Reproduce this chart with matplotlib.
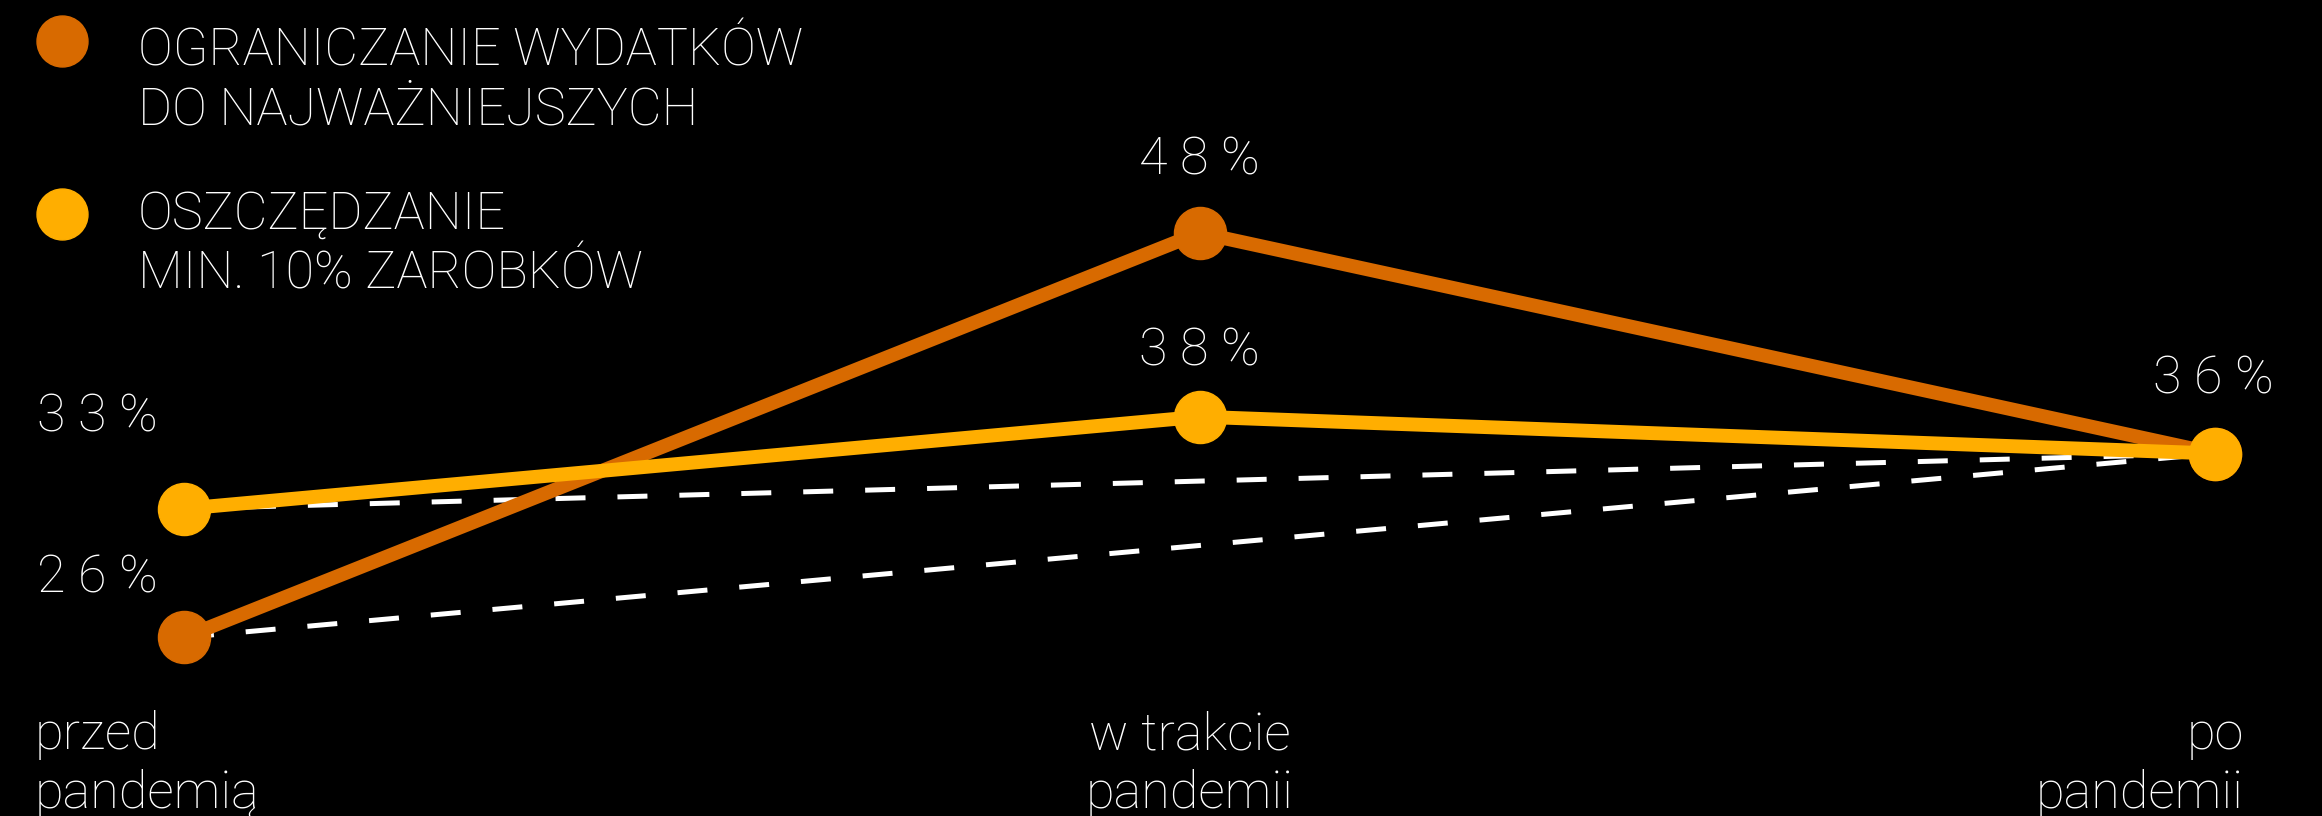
import matplotlib
matplotlib.use('Agg')
import matplotlib.pyplot as plt
from matplotlib import font_manager

# ---- data ----
categories = ['przed\npandemią', 'w trakcie\npandemii', 'po\npandemii']
limit_spending = [26, 48, 36]      # OGRANICZANIE WYDATKÓW DO NAJWAŻNIEJSZYCH
saving_10pct = [33, 38, 36]        # OSZCZĘDZANIE MIN. 10% ZAROBKÓW
series_names = ['OGRANICZANIE WYDATKÓW\nDO NAJWAŻNIEJSZYCH',
                'OSZCZĘDZANIE\nMIN. 10% ZAROBKÓW']

ORANGE = '#D86A00'
YELLOW = '#FFAE00'

fams = {f.name for f in font_manager.fontManager.ttflist}
FONT = [f for f in ['Roboto', 'Liberation Sans', 'DejaVu Sans'] if f in fams] + ['DejaVu Sans']
plt.rcParams['font.family'] = FONT
plt.rcParams['lines.scale_dashes'] = False

W, H = 2322, 816
FS = 37.5
LS = 1.24
X0, STEP = 184, 1015.5   # pixel of first category, pixels between categories
fig = plt.figure(figsize=(W / 100, H / 100), dpi=100, facecolor='black')
ax = fig.add_axes([0, 0, 1, 1])
ax.set_facecolor('black')
ax.set_axis_off()

x = list(range(len(categories)))
ax.set_xlim(-X0 / STEP, (W - X0) / STEP)
ax.set_ylim(16.29, 60.66)

# dashed baselines from first to last value
for vals in (limit_spending, saving_10pct):
    ax.plot([x[0], x[-1]], [vals[0], vals[-1]], color='white', lw=3.6,
            dashes=(21.6, 23), zorder=1, solid_capstyle='butt')

ax.plot(x, limit_spending, color=ORANGE, lw=10, marker='o', ms=37.5,
        zorder=3, solid_joinstyle='round')
ax.plot(x, saving_10pct, color=YELLOW, lw=10, marker='o', ms=37.5,
        zorder=4, solid_joinstyle='round')

# value labels (offsets in pixels relative to the marker)
lbl_kw = dict(textcoords='offset pixels', color='white', fontsize=FS,
              fontweight='light', va='baseline')
ax.annotate('2 6 %', (x[0], limit_spending[0]), xytext=(37 - X0, 45), ha='left', **lbl_kw)
ax.annotate('3 3 %', (x[0], saving_10pct[0]), xytext=(37 - X0, 77), ha='left', **lbl_kw)
ax.annotate('4 8 %', (x[1], limit_spending[1]), xytext=(0, 58), ha='center', **lbl_kw)
ax.annotate('3 8 %', (x[1], saving_10pct[1]), xytext=(0, 51), ha='center', **lbl_kw)
ax.annotate('3 6 %', (x[2], limit_spending[2]), xytext=(-2, 60), ha='center', **lbl_kw)

# category labels
cat_ha = ['left', 'center', 'right']
cat_dx = [35 - X0, -10, 2244 - (X0 + 2 * STEP)]
for xi, cat, ha, dx in zip(x, categories, cat_ha, cat_dx):
    ax.annotate(cat, (xi, 0), xycoords=ax.get_xaxis_transform(),
                xytext=(dx, 816 - 710), textcoords='offset pixels',
                ha=ha, va='top', ma=ha, color='white', fontsize=FS,
                fontweight='light', linespacing=LS)

# legend
for (cy, ty), name, col in zip([(41, 26), (214, 190)], series_names, [ORANGE, YELLOW]):
    ax.plot([62 / W], [1 - cy / H], transform=ax.transAxes, marker='o', ms=36.7,
            color=col, clip_on=False)
    ax.text(138 / W, 1 - ty / H, name, transform=ax.transAxes, color='white',
            fontsize=FS, fontweight='light', va='top', ha='left', linespacing=LS)

fig.savefig('out.png', dpi=100, facecolor='black')
